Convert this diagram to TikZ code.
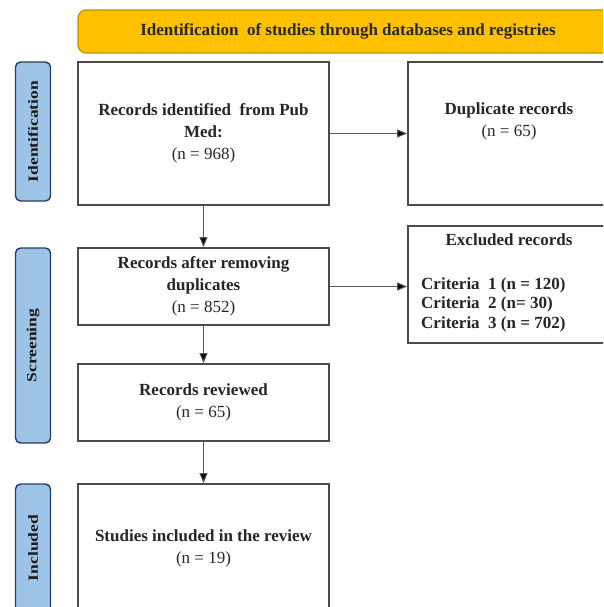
\documentclass[tikz,border=0pt]{standalone}
\usepackage{fontspec}
\setmainfont{Liberation Serif}
\usepackage{graphicx}
\usetikzlibrary{positioning}
\usetikzlibrary{arrows.meta}
\definecolor{headgold}{RGB}{255,192,0}
\definecolor{headedge}{RGB}{191,144,0}
\definecolor{phaseblue}{RGB}{157,195,230}
\definecolor{phaseedge}{RGB}{40,60,95}
\definecolor{boxedge}{RGB}{75,75,75}
\tikzset{
  flowbox/.style={draw=boxedge, line width=1.7pt, fill=white, align=center,
    inner sep=0pt, text=black!85, font=\fontsize{17}{22}\selectfont},
  phase/.style={draw=phaseedge, line width=1.4pt, fill=phaseblue,
    rounded corners=5pt, rotate=90, inner sep=0pt, minimum height=35pt,
    text=black!90, font=\bfseries\fontsize{14}{16}\selectfont},
  flowarrow/.style={-{Triangle[length=10pt,width=8pt,fill=black]}, draw=black!65, line width=1pt},
}
\begin{document}
\begin{tikzpicture}[x=1pt,y=-1pt]
		\useasboundingbox (0,0) rectangle (603,607);
		\clip (0,0) rectangle (603,607);
		% Header
		\node (head) [draw=headedge, line width=1.2pt, fill=headgold, rounded corners=8pt,
			minimum width=540pt, minimum height=43pt, text=black!85,
			font=\bfseries\fontsize{17}{20}\selectfont] at (348,31.5)
			{Identification\ \ of studies through databases and registries};
		% Phases
		\node (phid) [phase, minimum width=139pt] at (33,131.5) {\scalebox{1.25}[1]{Identification}};
		\node (phscr) [phase, minimum width=195pt] at (33,345.5) {\scalebox{1.25}[1]{Screening}};
		\node (phinc) [phase, minimum width=128pt] at (33,548) {\scalebox{1.25}[1]{Included}};
		% Identification
		\node (records) [flowbox, minimum width=251pt, minimum height=143pt] at (203.5,133.5)
			{\textbf{Records identified\ \ from Pub}\\\textbf{Med:}\\(n = 968)};
		\node (dupl) [flowbox, minimum width=202pt, minimum height=143pt] at (509,133.5)
			{\textbf{Duplicate records}\\(n = 65)\\\strut};
		% Screening
		\node (dedup) [flowbox, minimum width=251pt, minimum height=77pt] at (203.5,286.5)
			{\textbf{Records after removing}\\\textbf{duplicates}\\(n = 852)};
		\node (excl) [flowbox, minimum width=202pt, minimum height=117pt] at (509,284.5) {};
		\node (exclhead) [below=8pt of excl.north, inner sep=0pt, text=black!85,
			font=\bfseries\fontsize{17}{20}\selectfont] {Excluded records};
		\node (exclcrit) [anchor=west, align=left, inner sep=0pt, text=black!85,
			font=\bfseries\fontsize{17}{19.5}\selectfont] at (421,304.5)
			{Criteria\ \ 1 (n = 120)\\Criteria\ \ 2 (n= 30)\\Criteria\ \ 3 (n = 702)};
		\node (reviewed) [flowbox, minimum width=251pt, minimum height=77pt] at (203.5,402.5)
			{\textbf{Records reviewed}\\(n = 65)};
		% Included
		\node (incl) [flowbox, minimum width=251pt, minimum height=129pt] at (203.5,548.5)
			{\textbf{Studies included in the review}\\(n = 19)};
		% Arrows
		\draw[flowarrow] (records.east) -- (records.east -| dupl.west);
		\draw[flowarrow] (records.south) -- (dedup.north);
		\draw[flowarrow] (dedup.east) -- (dedup.east -| excl.west);
		\draw[flowarrow] (dedup.south) -- (reviewed.north);
		\draw[flowarrow] (reviewed.south) -- (incl.north);
	\end{tikzpicture}
\end{document}
